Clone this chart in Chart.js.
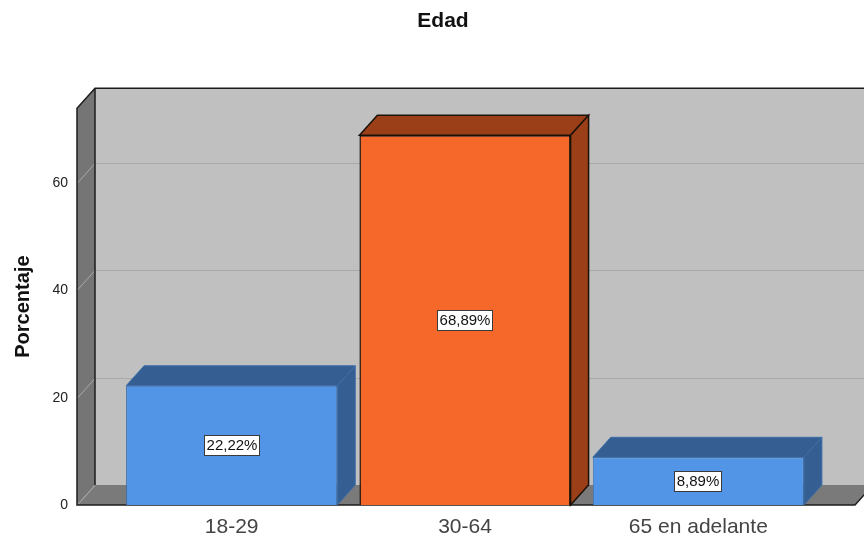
<!DOCTYPE html>
<html>
<head>
<meta charset="utf-8">
<title>Edad</title>
<script src="https://cdn.jsdelivr.net/npm/chart.js@4"></script>
<style>
  html, body { margin: 0; padding: 0; background: #fff; overflow: hidden; }
  canvas { display: block; }
</style>
</head>
<body>
<canvas id="chart" width="864" height="538"></canvas>
<script>
const categories = ['18-29', '30-64', '65 en adelante'];
const percentages = [22.22, 68.89, 8.89];
const frontColors = ['#5294e6', '#f5682a', '#5294e6'];
const shadeColors = ['#355e92', '#9a3f18', '#355e92'];
const edgeColors = ['#3d6ea8', '#1a1208', '#3d6ea8'];
const edgeWidths = [1, 1.5, 1];

const DEPTH_X = 18;
const DEPTH_Y = 20;
const FLOOR_LEFT = 77;
const FLOOR_RIGHT = 855;
const FONT = '"Liberation Sans", Arial, sans-serif';

function poly(ctx, pts, fill, stroke, lw) {
  ctx.beginPath();
  pts.forEach((p, i) => (i ? ctx.lineTo(p[0], p[1]) : ctx.moveTo(p[0], p[1])));
  ctx.closePath();
  ctx.fillStyle = fill;
  ctx.fill();
  if (stroke) {
    ctx.strokeStyle = stroke;
    ctx.lineWidth = lw;
    ctx.stroke();
  }
}

// back wall, side wall and floor of the box, with gridlines wrapped round the walls
const boxPlugin = {
  id: 'box',
  // the title block stops at the plot's right edge, widen it on the left to recentre
  afterLayout(chart) {
    chart.titleBlock.left = 71;
  },
  beforeDatasetsDraw(chart) {
    const { ctx, chartArea, scales } = chart;
    const top = chartArea.top, bottom = chartArea.bottom;
    const backL = FLOOR_LEFT + DEPTH_X, backR = FLOOR_RIGHT + DEPTH_X;
    ctx.save();
    poly(ctx, [[backL, top - DEPTH_Y], [backR, top - DEPTH_Y], [backR, bottom - DEPTH_Y], [backL, bottom - DEPTH_Y]], '#c0c0c0');
    poly(ctx, [[FLOOR_LEFT, top], [backL, top - DEPTH_Y], [backL, bottom - DEPTH_Y], [FLOOR_LEFT, bottom]], '#757575');
    poly(ctx, [[FLOOR_LEFT, bottom], [backL, bottom - DEPTH_Y], [backR, bottom - DEPTH_Y], [FLOOR_RIGHT, bottom]], '#7a7a7a');

    ctx.lineWidth = 1;
    ctx.strokeStyle = '#a9a9a9';
    scales.y.ticks.forEach(t => {
      const y = Math.round(scales.y.getPixelForValue(t.value)) + 0.5;
      ctx.beginPath();
      ctx.moveTo(FLOOR_LEFT, y);
      ctx.lineTo(backL, y - DEPTH_Y);
      if (t.value !== 0) ctx.lineTo(backR, y - DEPTH_Y);
      ctx.stroke();
    });

    ctx.strokeStyle = '#1c1c1c';
    ctx.lineWidth = 1.5;
    ctx.beginPath();
    ctx.moveTo(backR, top - DEPTH_Y);
    ctx.lineTo(backL, top - DEPTH_Y);
    ctx.lineTo(FLOOR_LEFT, top);
    ctx.lineTo(FLOOR_LEFT, bottom);
    ctx.lineTo(FLOOR_RIGHT, bottom);
    ctx.lineTo(backR, bottom - DEPTH_Y);
    ctx.moveTo(backL, top - DEPTH_Y);
    ctx.lineTo(backL, bottom - DEPTH_Y);
    ctx.stroke();

    // top and side faces of the bars, the front face comes from the bar element
    chart.getDatasetMeta(0).data.forEach((bar, i) => {
      const l = bar.x - bar.width / 2, r = bar.x + bar.width / 2;
      const t = bar.y, b = bar.base;
      poly(ctx, [[l, t], [l + DEPTH_X, t - DEPTH_Y], [r + DEPTH_X, t - DEPTH_Y], [r, t]], shadeColors[i], edgeColors[i], edgeWidths[i]);
      poly(ctx, [[r, t], [r + DEPTH_X, t - DEPTH_Y], [r + DEPTH_X, b - DEPTH_Y], [r, b]], shadeColors[i], edgeColors[i], edgeWidths[i]);
    });
    ctx.restore();
  }
};

// boxed value label in the middle of each bar
const valueBoxPlugin = {
  id: 'valueBox',
  afterDatasetsDraw(chart) {
    const { ctx } = chart;
    ctx.save();
    ctx.font = '15px ' + FONT;
    ctx.textAlign = 'center';
    ctx.textBaseline = 'middle';
    chart.getDatasetMeta(0).data.forEach((bar, i) => {
      const text = percentages[i].toFixed(2).replace('.', ',') + '%';
      const w = Math.round(ctx.measureText(text).width) + 5;
      const cx = Math.round(bar.x), cy = Math.round((bar.y + bar.base) / 2);
      const x = cx - Math.round(w / 2), y = cy - 10;
      ctx.fillStyle = '#fff';
      ctx.fillRect(x, y, w, 21);
      ctx.strokeStyle = '#3a3a3a';
      ctx.lineWidth = 1;
      ctx.strokeRect(x + 0.5, y + 0.5, w - 1, 20);
      ctx.fillStyle = '#111';
      ctx.fillText(text, cx, cy + 1);
    });
    ctx.restore();
  }
};

new Chart(document.getElementById('chart'), {
  type: 'bar',
  data: {
    labels: categories,
    datasets: [{
      data: percentages,
      backgroundColor: frontColors,
      borderColor: edgeColors,
      borderWidth: edgeWidths,
      barPercentage: 0.905,
      categoryPercentage: 1
    }]
  },
  options: {
    responsive: false,
    animation: false,
    events: [],
    layout: { autoPadding: false, padding: { top: 0, right: 49, bottom: 0, left: 0 } },
    plugins: {
      legend: { display: false },
      tooltip: { enabled: false },
      title: {
        display: true,
        text: 'Edad',
        color: '#111',
        font: { family: FONT, size: 21, weight: 'bold' },
        padding: { top: 9, bottom: 74 }
      }
    },
    scales: {
      x: {
        grid: { display: false, drawTicks: false },
        border: { display: false },
        afterFit(scale) { scale.height = 33; },
        ticks: {
          color: '#444',
          padding: 10,
          maxRotation: 0,
          font: { family: FONT, size: 21 }
        }
      },
      y: {
        min: 0,
        max: 73.95,
        // the wide tick padding would otherwise be reserved below the plot too
        afterFit(scale) {
          scale.width = 115;
          scale.paddingTop = 0;
          scale.paddingBottom = 0;
        },
        grid: { display: false, drawTicks: false },
        border: { display: false },
        ticks: {
          stepSize: 20,
          includeBounds: false,
          padding: 47,
          color: '#222',
          font: { family: FONT, size: 14 }
        },
        title: {
          display: true,
          text: 'Porcentaje',
          color: '#111',
          padding: { top: 11, bottom: 0 },
          font: { family: FONT, size: 20, weight: 'bold' }
        }
      }
    }
  },
  plugins: [boxPlugin, valueBoxPlugin]
});
</script>
</body>
</html>
